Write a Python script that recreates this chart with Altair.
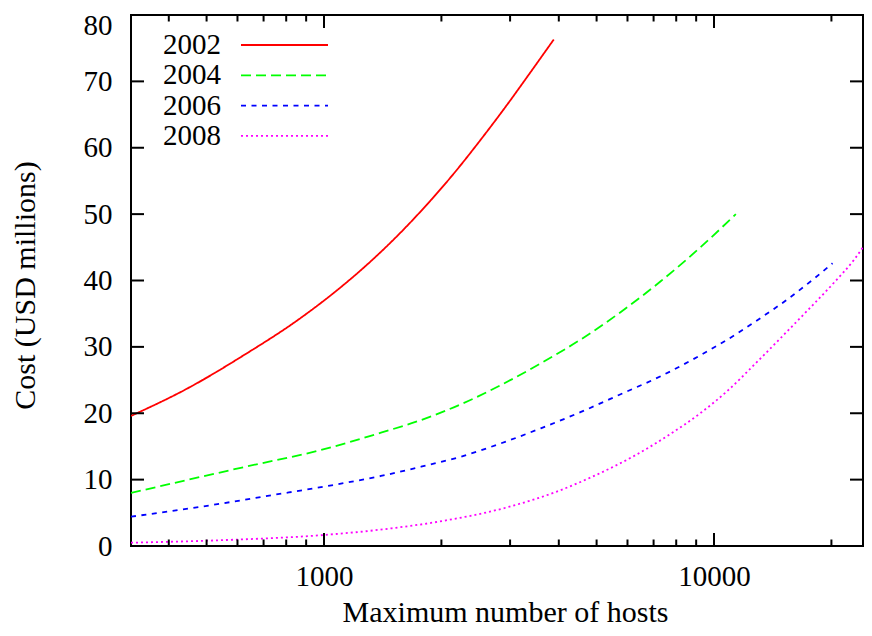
import altair as alt
import pandas as pd

# ---- data ----
years = ["2002", "2004", "2006", "2008"]

hosts_2002 = [320, 447, 625, 857, 1042, 1268, 1607, 1879, 2158, 2529, 2958, 3396, 3882]
cost_2002 = [19.6, 23.75, 28.8, 34.05, 37.8, 42.0, 47.8, 52.1, 56.2, 61.3, 66.6, 71.5, 76.3]

hosts_2004 = [320, 630, 982, 1400, 1774, 2244, 2844, 3597, 4560, 5781, 7311, 9268, 11376]
cost_2004 = [8.0, 11.95, 14.46, 17.07, 18.98, 21.35, 24.26, 27.52, 31.14, 35.3, 39.92,
             45.1, 50.0]

hosts_2006 = [320, 486, 740, 1000, 1400, 1774, 2244, 2844, 3597, 4560, 5781, 7311,
              9268, 11455, 12677, 15453, 18072, 20137]
cost_2006 = [4.42, 5.93, 7.68, 8.95, 10.55, 11.95, 13.46, 15.47, 17.73, 20.2, 22.9, 25.6,
             28.8, 32.0, 33.7, 37.2, 40.3, 42.6]

hosts_2008 = [320, 560, 1000, 1489, 1968, 2992, 3954, 4943, 6252, 7603, 9268, 10839,
              12677, 14859, 17378, 20324, 22909, 25351]
cost_2008 = [0.5, 0.9, 1.66, 2.66, 3.67, 5.93, 8.2, 10.6, 13.6, 16.6, 20.1, 23.4,
             27.3, 31.4, 35.5, 39.7, 43.2, 47.0]

y_tick_values = [0, 10, 20, 30, 40, 50, 60, 70, 80]
x_major_ticks = [1000, 10000]
x_minor_ticks = [400, 500, 600, 700, 800, 900, 2000, 3000, 4000, 5000, 6000, 7000,
                 8000, 9000, 20000]

x_title = "Maximum number of hosts"
y_title = "Cost (USD millions)"

# ---- tables ----
series = {
    "2002": (hosts_2002, cost_2002),
    "2004": (hosts_2004, cost_2004),
    "2006": (hosts_2006, cost_2006),
    "2008": (hosts_2008, cost_2008),
}
rows = []
for yr, (xs, ys) in series.items():
    for i, (xv, yv) in enumerate(zip(xs, ys)):
        rows.append({"year": yr, "hosts": xv, "cost": yv, "order": i})
df = pd.DataFrame(rows)

legend_df = pd.DataFrame({"year": years, "row": list(range(len(years)))})
ytick_df = pd.DataFrame({"v": y_tick_values})
xmaj_df = pd.DataFrame({"v": x_major_ticks})
xmin_df = pd.DataFrame({"v": x_minor_ticks})

FONT = "Liberation Serif, Times New Roman, Times, serif"
W, H = 732, 531
MAJ, MIN = 13, 6.5
LW = 1.8

x_scale = alt.Scale(type="log", domain=[320, 24100], nice=False)
y_scale = alt.Scale(domain=[0, 80], nice=False, zero=False)
color_scale = alt.Scale(domain=years, range=["#ff0000", "#00ff00", "#0000ff", "#ff00ff"])
dash_scale = alt.Scale(domain=years, range=[[1, 0], [10, 5], [5, 5.5], [2, 3]])

lines = alt.Chart(df).mark_line(strokeWidth=LW, clip=True, interpolate="monotone").encode(
    x=alt.X("hosts:Q", scale=x_scale,
            axis=alt.Axis(values=x_major_ticks, format="d", ticks=False, tickSize=0,
                          domain=False, grid=False, labelPadding=16,
                          labelFont=FONT, labelFontSize=29, labelColor="black",
                          title=x_title, titleFont=FONT, titleFontSize=30,
                          titleFontWeight="normal", titleColor="black",
                          titleX=374, titleY=75, titleBaseline="alphabetic",
                          titleAlign="center")),
    y=alt.Y("cost:Q", scale=y_scale,
            axis=alt.Axis(values=y_tick_values, ticks=False, tickSize=0, domain=False,
                          grid=False, labelPadding=19, labelFont=FONT, labelFontSize=29,
                          labelColor="black",
                          labelBaseline={"condition": {"test": "datum.value == 80",
                                                       "value": "top"},
                                         "value": "middle"},
                          labelOffset={"condition": {"test": "datum.value == 80",
                                                     "value": -4},
                                       "value": 0},
                          title=y_title, titleFont=FONT,
                          titleFontSize=30, titleFontWeight="normal", titleColor="black",
                          titleAngle=-90, titleX=-106, titleY=270,
                          titleBaseline="middle", titleAlign="center")),
    color=alt.Color("year:N", scale=color_scale, legend=None),
    strokeDash=alt.StrokeDash("year:N", scale=dash_scale, legend=None),
    order="order:Q",
)

# inward tick marks (gnuplot style) on all four sides
left_ticks = alt.Chart(ytick_df).mark_rule(color="black", strokeWidth=2).encode(
    y=alt.Y("v:Q", scale=y_scale), x=alt.value(0), x2=alt.value(MAJ))
right_ticks = alt.Chart(ytick_df).mark_rule(color="black", strokeWidth=2).encode(
    y=alt.Y("v:Q", scale=y_scale), x=alt.value(W - MAJ), x2=alt.value(W))
bot_major = alt.Chart(xmaj_df).mark_rule(color="black", strokeWidth=2).encode(
    x=alt.X("v:Q", scale=x_scale), y=alt.value(H - MAJ), y2=alt.value(H))
top_major = alt.Chart(xmaj_df).mark_rule(color="black", strokeWidth=2).encode(
    x=alt.X("v:Q", scale=x_scale), y=alt.value(0), y2=alt.value(MAJ))
bot_minor = alt.Chart(xmin_df).mark_rule(color="black", strokeWidth=2).encode(
    x=alt.X("v:Q", scale=x_scale), y=alt.value(H - MIN), y2=alt.value(H))
top_minor = alt.Chart(xmin_df).mark_rule(color="black", strokeWidth=2).encode(
    x=alt.X("v:Q", scale=x_scale), y=alt.value(0), y2=alt.value(MIN))

# key inside the plot, top-left (label left of sample, as gnuplot does)
legend_base = alt.Chart(legend_df).transform_calculate(ly="30 + datum.row * 30.3")
legend_lines = legend_base.mark_rule(strokeWidth=LW).encode(
    x=alt.value(110), x2=alt.value(197),
    y=alt.Y("ly:Q", scale=None),
    color=alt.Color("year:N", scale=color_scale, legend=None),
    strokeDash=alt.StrokeDash("year:N", scale=dash_scale, legend=None),
)
legend_text = legend_base.mark_text(align="right", baseline="middle", font=FONT,
                                    fontSize=29, color="black").encode(
    x=alt.value(90),
    y=alt.Y("ly:Q", scale=None),
    text="year:N",
)

chart = alt.layer(
    lines, left_ticks, right_ticks, bot_major, top_major, bot_minor, top_minor,
    legend_lines, legend_text,
).properties(
    width=W, height=H,
    background="white",
    autosize=alt.AutoSizeParams(type="none"),
    padding={"left": 123, "top": 7, "right": 1, "bottom": 82},
).configure_view(stroke="black", strokeWidth=2)

chart.save("out.html", embed_options={"renderer": "svg", "actions": False})
